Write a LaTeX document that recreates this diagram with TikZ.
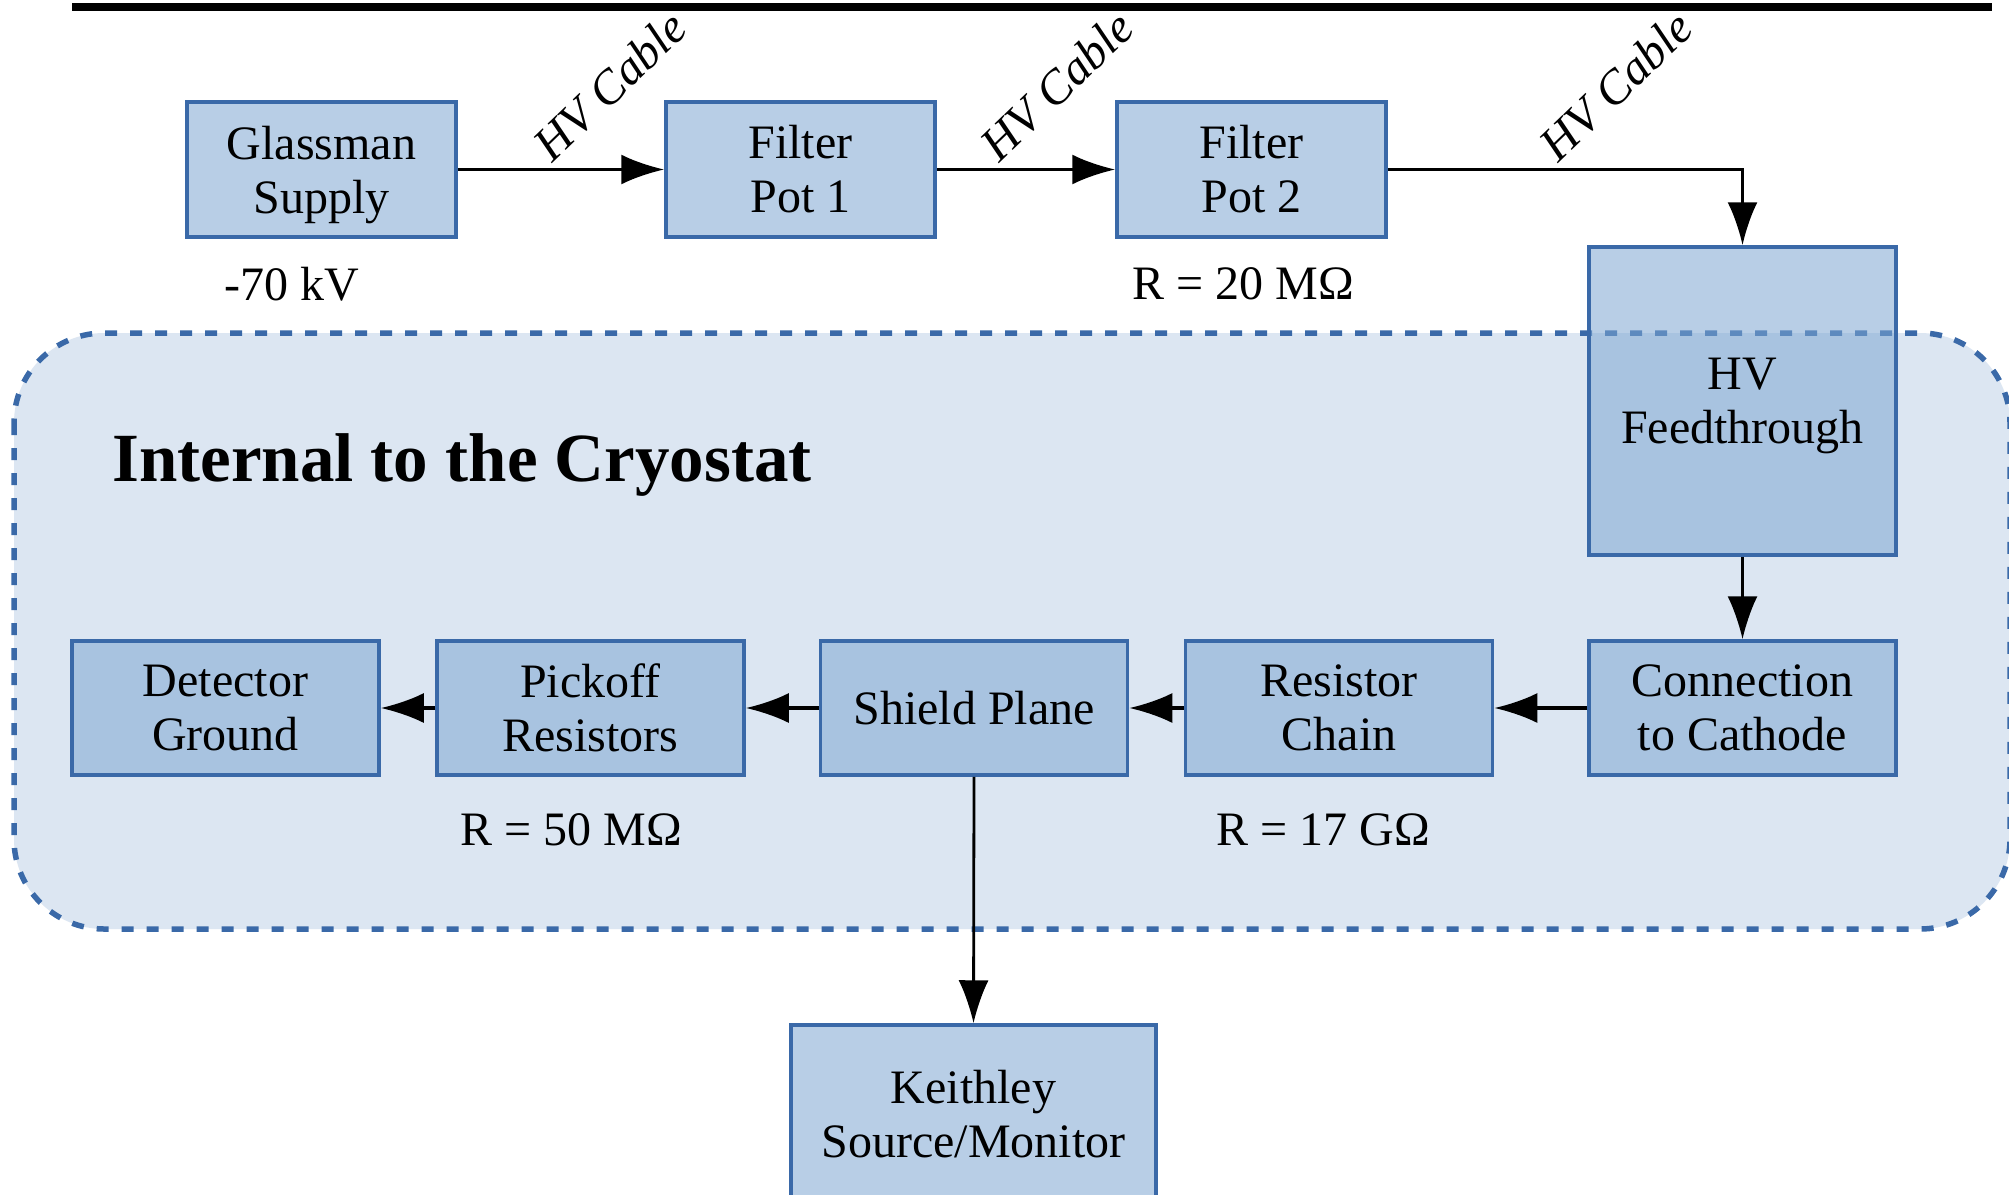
\documentclass[tikz,border=0pt]{standalone}
\usepackage{fontspec}
\setmainfont{Liberation Serif}
\usetikzlibrary{arrows.meta}
\definecolor{boxfill}{RGB}{125,166,210}
\definecolor{boxline}{RGB}{58,105,168}
\definecolor{regfill}{RGB}{220,230,242}
\begin{document}
\begin{tikzpicture}[x=1pt,y=-1pt,
  blk/.style={draw=boxline, line width=3.5pt, fill=boxfill, fill opacity=0.54, text opacity=1,
    align=center, inner sep=0pt, font=\fontsize{48}{54}\selectfont},
  lbl/.style={inner sep=0pt, font=\fontsize{48}{54}\selectfont},
  cab/.style={inner sep=0pt, rotate=44, font=\fontsize{48}{54}\selectfont\itshape},
  conn/.style={line width=3.4pt, -{Latex[length=43pt,width=30pt]}},
  region/.style={draw=boxline, fill=regfill, line width=5.5pt, dash pattern=on 12pt off 13pt, rounded corners=90pt}]
\useasboundingbox (0,0) rectangle (2009,1194);
\fill[white] (0,0) rectangle (2009,1194);
% top rule
\coordinate (rl) at (72,7);
\coordinate (rr) at (1992,7);
\draw[line width=8pt] (rl) -- (rr);
% region
\draw[region] (14,333) rectangle (2010,929);
\node[anchor=base west, inner sep=0pt, font=\fontsize{69}{80}\selectfont\bfseries] (title) at (112,481) {Internal to the Cryostat};
% top row
\node[blk, minimum width=269pt, minimum height=135pt] (glass) at (321.5,169.5) {Glassman\\\smash{Supply}};
\node[blk, minimum width=269pt, minimum height=135pt] (pot1) at (800.5,169.5) {Filter\\Pot 1};
\node[blk, minimum width=269pt, minimum height=135pt] (pot2) at (1251.5,169.5) {Filter\\Pot 2};
\node[blk, minimum width=307pt, minimum height=308pt] (feed) at (1742.5,401) {HV\\\smash{Feedthrough}};
% bottom row
\node[blk, minimum width=307pt, minimum height=134pt] (cath) at (1742.5,708) {Connection\\to Cathode};
\node[blk, minimum width=307pt, minimum height=134pt] (chain) at (1339,708) {Resistor\\Chain};
\node[blk, minimum width=307pt, minimum height=134pt] (shield) at (974,708) {Shield Plane};
\node[blk, minimum width=307pt, minimum height=134pt] (pick) at (590.5,708) {Pickoff\\Resistors};
\node[blk, minimum width=307pt, minimum height=134pt] (det) at (225.5,708) {Detector\\Ground};
\node[blk, minimum width=365pt, minimum height=178pt] (keith) at (973.5,1114) {Keithley\\Source/Monitor};
% labels
\node[lbl] (kv) at (292,284) {-70 kV};
\node[lbl] (r20) at (1243,284) {R = 20 M\symbol{"03A9}};
\node[lbl] (r50) at (571,830) {R = 50 M\symbol{"03A9}};
\node[lbl] (r17) at (1323,830) {R = 17 G\symbol{"03A9}};
\node[cab] (c1) at (610,86) {HV Cable};
\node[cab] (c2) at (1057,86) {HV Cable};
\node[cab] (c3) at (1616,86) {HV Cable};
% connectors
\draw[conn] (glass.east) -- (pot1.west);
\draw[conn] (pot1.east) -- (pot2.west);
\draw[conn] (pot2.east) -| (feed.north);
\draw[conn, line width=2.8pt] (feed.south) -- (cath.north);
\draw[conn] (cath.west) -- (chain.east);
\draw[conn] (chain.west) -- (shield.east);
\draw[conn] (shield.west) -- (pick.east);
\draw[conn] (pick.west) -- (det.east);
\draw[conn, line width=2.8pt] (shield.south) -- (keith.north);
\end{tikzpicture}
\end{document}
